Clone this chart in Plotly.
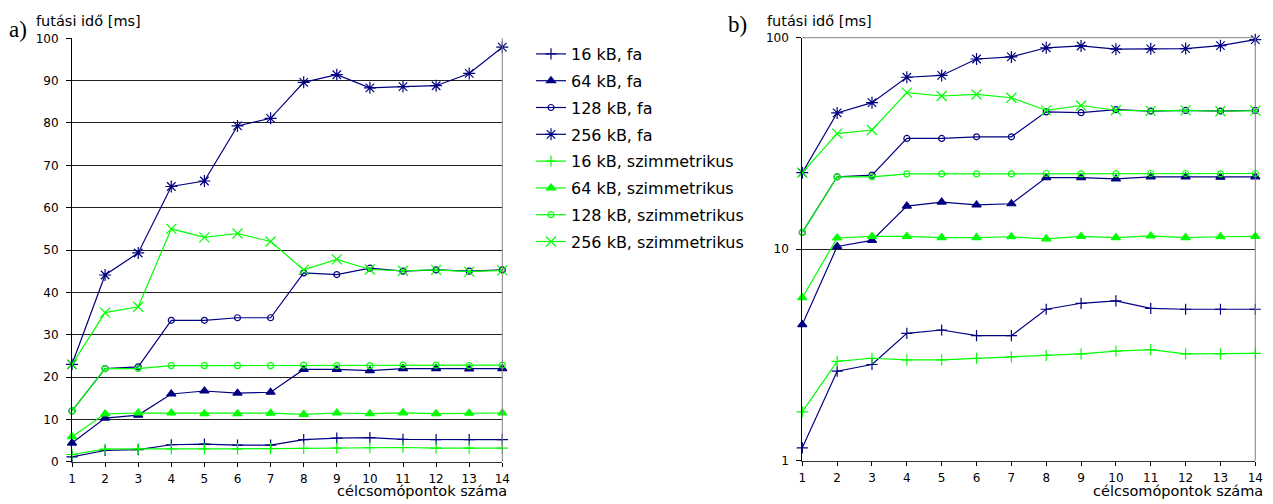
import plotly.graph_objects as go

W, H = 1273, 504

# ---- data ----
nodes = list(range(1, 15))
series_names = ["16 kB, fa", "64 kB, fa", "128 kB, fa", "256 kB, fa",
                "16 kB, szimmetrikus", "64 kB, szimmetrikus",
                "128 kB, szimmetrikus", "256 kB, szimmetrikus"]
fa16 = [1.15, 2.65, 2.85, 4.0, 4.15, 3.9, 3.9, 5.2, 5.55, 5.7, 5.25, 5.2, 5.2, 5.2]
fa64 = [4.4, 10.3, 11.0, 16.0, 16.7, 16.2, 16.4, 21.8, 21.8, 21.5, 22.0, 22.0, 21.9, 22.0]
fa128 = [12.0, 22.0, 22.4, 33.4, 33.4, 34.0, 34.0, 44.6, 44.2, 45.7, 45.0, 45.3, 45.0, 45.3]
fa256 = [23.0, 44.1, 49.3, 65.0, 66.3, 79.3, 81.1, 89.6, 91.4, 88.3, 88.6, 88.8, 91.7, 97.9]
sz16 = [1.7, 2.95, 3.05, 3.0, 3.0, 3.05, 3.1, 3.15, 3.2, 3.3, 3.35, 3.2, 3.2, 3.22]
sz64 = [5.9, 11.3, 11.5, 11.5, 11.35, 11.35, 11.45, 11.2, 11.5, 11.35, 11.55, 11.35, 11.45, 11.5]
sz128 = [12.0, 22.0, 22.0, 22.7, 22.7, 22.7, 22.7, 22.8, 22.7, 22.7, 22.8, 22.8, 22.7, 22.8]
sz256 = [23.0, 35.2, 36.6, 55.0, 53.0, 53.9, 52.0, 45.3, 47.8, 45.4, 45.1, 45.3, 44.9, 45.2]
all_series = [fa16, fa64, fa128, fa256, sz16, sz64, sz128, sz256]

y_title = "futási idő [ms]"
x_title = "célcsomópontok száma"
lin_ticks = list(range(0, 101, 10))
log_ticks = [1, 10, 100]

NAVY = "#000080"
GREEN = "#00FF00"
colors = [NAVY] * 4 + [GREEN] * 4
symbols = ["cross-thin-open", "triangle-up", "circle-open", "asterisk-open"] * 2
symbols[7] = "x-thin-open"
sizes = [8, 8, 6, 10, 8, 8, 6, 10]

FONT = "DejaVu Sans"

fig = go.Figure()
for i, (name, vals) in enumerate(zip(series_names, all_series)):
    for axis_id, show in (("", True), ("2", False)):
        fig.add_trace(go.Scatter(
            x=nodes, y=vals, name=name, mode="lines+markers",
            xaxis="x" + axis_id, yaxis="y" + axis_id,
            showlegend=show, legendgroup="g%d" % i,
            cliponaxis=False,
            line=dict(color=colors[i], width=1.2),
            marker=dict(symbol=symbols[i], size=sizes[i], color=colors[i],
                        line=dict(color=colors[i], width=1.2)),
        ))

def px_x(p):
    return p / W

def px_y(p):
    return 1 - p / H

tickfont = dict(family=FONT, size=12, color="#000")

fig.update_layout(
    width=W, height=H,
    margin=dict(l=0, r=0, t=0, b=0, autoexpand=False),
    paper_bgcolor="white", plot_bgcolor="white",
    showlegend=True,
    legend=dict(x=px_x(531), y=px_y(37), xanchor="left", yanchor="top",
                font=dict(family=FONT, size=16, color="#000"),
                tracegroupgap=3.0, bgcolor="rgba(0,0,0,0)",
                traceorder="grouped"),
    xaxis=dict(domain=[px_x(72), px_x(502.3)], range=[1, 14], automargin=False,
               tickvals=nodes, ticks="outside", ticklen=4, tickcolor="#000",
               showline=True, linecolor="#333", linewidth=1, showgrid=False,
               zeroline=False, tickfont=tickfont, ticklabelstandoff=2),
    yaxis=dict(domain=[px_y(461.7), px_y(38.3)], range=[0, 100], automargin=False,
               tickvals=lin_ticks, ticks="outside", ticklen=5, tickcolor="#000",
               showline=True, linecolor="#000", linewidth=1,
               showgrid=True, gridcolor="#222", gridwidth=1.2,
               zeroline=False, tickfont=tickfont, ticklabelstandoff=5),
    xaxis2=dict(domain=[px_x(802.3), px_x(1255.3)], range=[1, 14], anchor="y2",
                automargin=False,
                tickvals=nodes, ticks="outside", ticklen=4, tickcolor="#000",
                showline=True, linecolor="#333", linewidth=1, showgrid=False,
                zeroline=False, tickfont=tickfont, ticklabelstandoff=2),
    yaxis2=dict(domain=[px_y(460.7), px_y(37.7)], type="log", range=[0, 2],
                anchor="x2", automargin=False,
                tickvals=log_ticks, ticks="outside", ticklen=5,
                tickcolor="#000", showline=True, linecolor="#000", linewidth=1,
                showgrid=False, zeroline=False, tickfont=tickfont,
                ticklabelstandoff=5,
                minor=dict(tickvals=[10], showgrid=True, gridcolor="#222",
                           gridwidth=1.2, ticks="")),
)

# gray right/top borders
border = dict(color="#808080", width=1)
fig.add_shape(type="line", xref="x domain", yref="y domain", x0=1, x1=1, y0=0, y1=1, line=border)
fig.add_shape(type="line", xref="x2 domain", yref="y2 domain", x0=1, x1=1, y0=0, y1=1, line=border)
fig.add_shape(type="line", xref="x2 domain", yref="y2 domain", x0=0, x1=1, y0=1, y1=1, line=border)

ann_font = dict(family=FONT, size=14.5, color="#000")
xt_font = dict(family=FONT, size=14.5, color="#000")
serif = dict(family="Liberation Serif", size=23, color="#000")
annotations = [
    dict(text="a)", x=px_x(8), y=px_y(29), xanchor="left", yanchor="middle", font=serif),
    dict(text="b)", x=px_x(727), y=px_y(24.5), xanchor="left", yanchor="middle", font=serif),
    dict(text=y_title, x=px_x(35), y=px_y(21), xanchor="left", yanchor="middle", font=ann_font),
    dict(text=y_title, x=px_x(766), y=px_y(21), xanchor="left", yanchor="middle", font=ann_font),
    dict(text=x_title, x=px_x(508), y=px_y(491), xanchor="right", yanchor="middle", font=xt_font),
    dict(text=x_title, x=px_x(1264), y=px_y(491), xanchor="right", yanchor="middle", font=xt_font),
]
for a in annotations:
    fig.add_annotation(xref="paper", yref="paper", showarrow=False, borderpad=0, **a)

fig.write_html("out.html", config={"displayModeBar": False},
               post_script="document.body.style.margin='0px';document.body.style.padding='0px';")
